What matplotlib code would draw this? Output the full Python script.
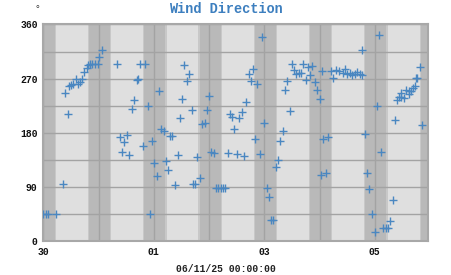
import matplotlib
matplotlib.use("Agg")
import matplotlib.pyplot as plt
import pandas as pd
import numpy as np

# ---- data: time offset (days from 2025-05-30 00:00) and wind direction (deg)
day_offsets = [
    0.00, 0.045, 0.09, 0.224, 0.35, 0.393, 0.44, 0.465, 0.50, 0.543, 0.585, 0.62,
    0.664, 0.705, 0.742, 0.785, 0.803, 0.845, 0.886, 0.935, 0.983, 1.013, 1.056,
    1.34, 1.386, 1.43, 1.465, 1.515, 1.556, 1.60, 1.64, 1.69, 1.72, 1.755, 1.81,
    1.84, 1.887, 1.924, 1.975, 2.01, 2.05,
    2.098, 2.13, 2.18, 2.22, 2.26, 2.29, 2.335, 2.387, 2.43, 2.47, 2.51, 2.55,
    2.592, 2.634, 2.683, 2.71, 2.75, 2.79, 2.84, 2.88, 2.92, 2.96, 3.005, 3.03, 3.085,
    3.12, 3.165, 3.207, 3.25, 3.29, 3.345, 3.376, 3.42, 3.46, 3.50, 3.545, 3.59,
    3.635, 3.67, 3.72, 3.756, 3.79, 3.83, 3.876, 3.92, 3.96, 4.0,
    4.045, 4.087, 4.117, 4.16, 4.208, 4.256, 4.292, 4.329, 4.376, 4.418, 4.461,
    4.497, 4.533, 4.58, 4.623, 4.665, 4.70, 4.75, 4.787, 4.828, 4.87, 4.92, 4.96, 5.0,
    5.02, 5.045, 5.06, 5.11, 5.15, 5.20, 5.24, 5.29, 5.35, 5.42, 5.46, 5.50, 5.55,
    5.59, 5.64, 5.68, 5.73, 5.77, 5.775, 5.82, 5.86, 5.90, 5.95,
    6.0, 6.03, 6.07, 6.12, 6.155, 6.197, 6.24, 6.28, 6.33, 6.36, 6.40, 6.44, 6.48,
    6.47, 6.52, 6.56, 6.61, 6.62, 6.65, 6.69, 6.72, 6.745, 6.77, 6.825, 6.86,
]
wind_dir = [
    45, 45, 45, 45, 96, 246, 211, 258, 260, 262, 269, 262,
    264, 269, 281, 287, 292, 294, 294, 294, 294, 306, 317,
    294, 173, 148, 165, 176, 143, 220, 234, 268, 270, 294, 159,
    294, 224, 45, 167, 130, 109,
    249, 186, 183, 134, 119, 175, 175, 94, 144, 204, 237, 293,
    266, 278, 218, 95, 95, 140, 106, 195, 197, 218, 241, 149, 146,
    89, 89, 89, 89, 89, 146, 211, 206, 187, 145, 204, 214,
    141, 231, 278, 267, 286, 170, 261, 145, 339, 196,
    89, 73, 35, 35, 123, 135, 167, 183, 252, 267, 217,
    294, 284, 277, 279, 279, 295, 268, 290, 276, 291, 264, 251, 236,
    110, 282, 170, 113, 173, 282, 271, 285, 282, 280, 286, 278, 279,
    276, 278, 281, 278, 276, 318, 179, 114, 87, 45,
    16, 225, 342, 149, 22, 22, 22, 34, 69, 202, 235, 240, 239,
    247, 238, 251, 245, 250, 250, 255, 258, 272, 271, 290, 194,
]

start = pd.Timestamp("2025-05-30")
span_days = 6.97
night_start_hour = 19.4   # approx. sunset
night_end_hour = 5.55     # approx. sunrise
title = "Wind Direction"
x_label = "06/11/25 00:00:00"
units = "°"
y_ticks = [0, 90, 180, 270, 360]

times = start + pd.to_timedelta(np.array(day_offsets), unit="D")

mono = ["Liberation Mono", "DejaVu Sans Mono"]

fig = plt.figure(figsize=(4.51, 2.75), dpi=100)
ax = fig.add_axes([0.096, 0.122, 0.854, 0.789])
ax.set_facecolor("#dfdfdf")

end = start + pd.Timedelta(days=span_days)
edge = pd.Timedelta(hours=0.5)
# night bands
for k in range(-1, 8):
    n0 = start + pd.Timedelta(days=k, hours=night_start_hour)
    n1 = start + pd.Timedelta(days=k + 1, hours=night_end_hour)
    ax.axvspan(n0, n1, color="#c8c8c8", lw=0, zorder=0)
    ax.axvspan(n0 + edge, n1 - edge, color="#b9b9b9", lw=0, zorder=0)

ax.plot(times, wind_dir, linestyle="none", marker="+", markersize=5.4,
        markeredgewidth=1.0, color="#4a87c1", zorder=3)

ax.set_xlim(start, end)
ax.set_ylim(0, 360)

# grid
day_ticks = [start + pd.Timedelta(days=k) for k in range(0, 7)]
ax.set_xticks(day_ticks)
ax.set_xticklabels([d.strftime("%d") if i % 2 == 0 else "" for i, d in enumerate(day_ticks)])
ax.set_yticks(np.arange(0, 361, 45), minor=False)
ax.set_yticklabels([str(v) if v in y_ticks else "" for v in np.arange(0, 361, 45)])
ax.grid(True, color="#a3a3a3", linewidth=1.0, zorder=1)
ax.set_axisbelow(True)
ax.tick_params(length=0, pad=4)
for lab in ax.get_xticklabels() + ax.get_yticklabels():
    lab.set_family(mono)
    lab.set_fontweight("bold")
    lab.set_fontsize(7)
    lab.set_color("#111111")

for sp in ax.spines.values():
    sp.set_color("#a8a8a8")
    sp.set_linewidth(1.5)

fig.text(0.5, 0.967, title, ha="center", va="center", family=mono,
         fontweight="bold", fontsize=9.8, color="#3d7fbf")
fig.text(0.5, 0.022, x_label, ha="center", va="center", family=mono,
         fontweight="bold", fontsize=7, color="#222222")
fig.text(0.084, 0.968, units, ha="center", va="center", family=mono,
         fontsize=7, color="#333333")

fig.savefig("out.png", dpi=100)
